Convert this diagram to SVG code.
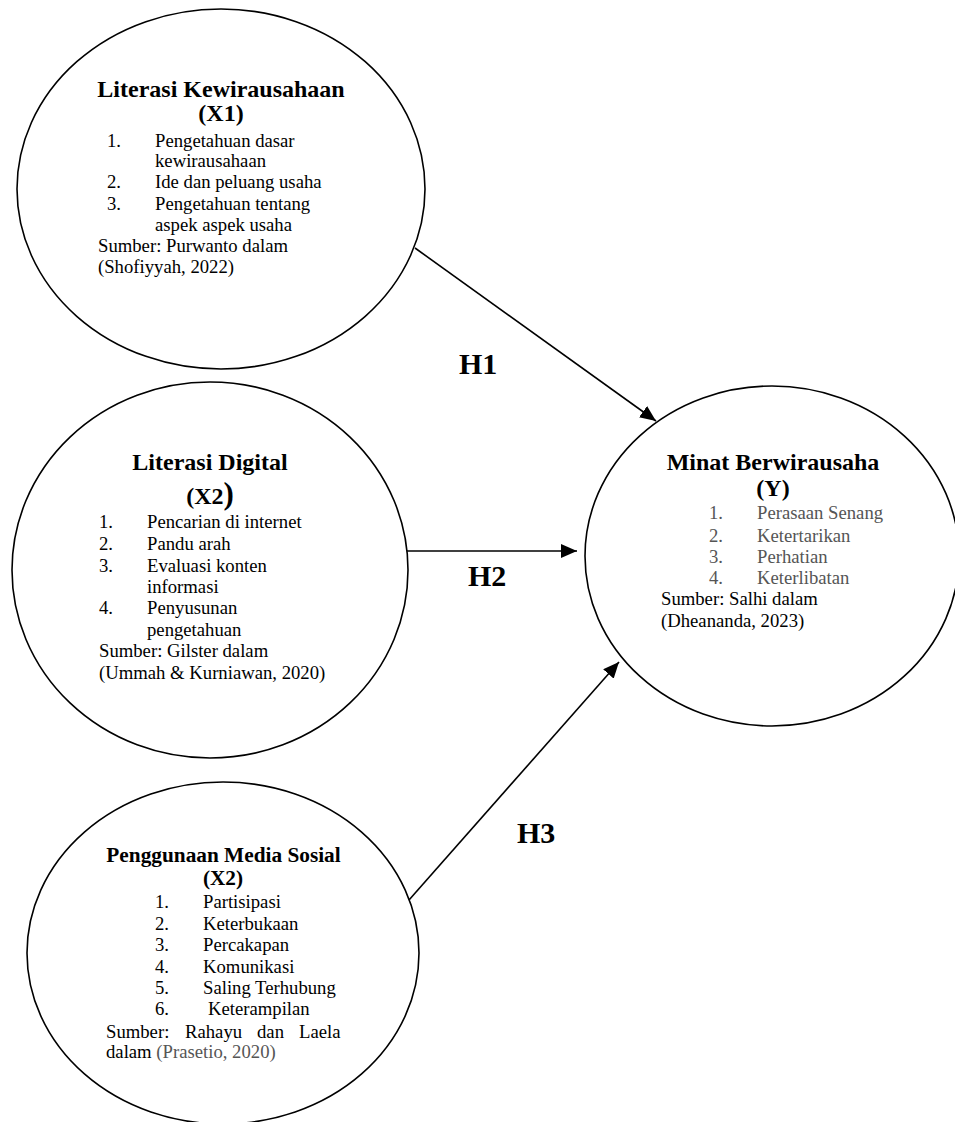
<svg xmlns="http://www.w3.org/2000/svg" width="955" height="1122" viewBox="0 0 955 1122">
<style>
.node ellipse{fill:#fff;stroke:#000;stroke-width:1.6}
text{font-family:"Liberation Serif","Times New Roman",serif;fill:#000}
.t{font-size:24px;font-weight:bold;text-anchor:middle}
.t2{font-size:21.3px;font-weight:bold;text-anchor:middle}
.i{font-size:18.7px}
.g{fill:#555}
.h{font-size:30px;font-weight:bold}
.edge{stroke:#000;stroke-width:1.6;fill:none;marker-end:url(#arr)}
</style>
<defs>
<marker id="arr" markerUnits="userSpaceOnUse" markerWidth="16" markerHeight="14" refX="16" refY="7" orient="auto">
<path d="M0,0 L16,7 L0,14 Z" fill="#000"/>
</marker>
</defs>
<rect width="955" height="1122" fill="#fff"/>
<g id="connectors">
<line class="edge" x1="415" y1="248" x2="656" y2="421"/>
<line class="edge" x1="407" y1="551" x2="577" y2="551"/>
<line class="edge" x1="409" y1="900" x2="619" y2="662"/>
<text class="h" x="459" y="374">H1</text>
<text class="h" x="468" y="586">H2</text>
<text class="h" x="517" y="843">H3</text>
</g>
<g id="x1" class="node">
<ellipse cx="221" cy="189" rx="204" ry="180"/>
<text class="t" x="221" y="97">Literasi Kewirausahaan</text>
<text class="t" x="221" y="121">(X1)</text>
<text class="i" x="107" y="147">1.</text><text class="i" x="155" y="147">Pengetahuan dasar</text>
<text class="i" x="155" y="167">kewirausahaan</text>
<text class="i" x="107" y="188">2.</text><text class="i" x="155" y="188">Ide dan peluang usaha</text>
<text class="i" x="107" y="210">3.</text><text class="i" x="155" y="210">Pengetahuan tentang</text>
<text class="i" x="155" y="231">aspek aspek usaha</text>
<text class="i" x="98" y="252">Sumber: Purwanto dalam</text>
<text class="i" x="98" y="273">(Shofiyyah, 2022)</text>
</g>
<g id="x2" class="node">
<ellipse cx="210" cy="570" rx="198" ry="188"/>
<text class="t" x="210" y="470">Literasi Digital</text>
<text class="t" x="210" y="504">(X2<tspan font-size="31px">)</tspan></text>
<text class="i" x="99" y="528">1.</text><text class="i" x="147" y="528">Pencarian di internet</text>
<text class="i" x="99" y="550">2.</text><text class="i" x="147" y="550">Pandu arah</text>
<text class="i" x="99" y="572">3.</text><text class="i" x="147" y="572">Evaluasi konten</text>
<text class="i" x="147" y="593">informasi</text>
<text class="i" x="99" y="614">4.</text><text class="i" x="147" y="614">Penyusunan</text>
<text class="i" x="147" y="636">pengetahuan</text>
<text class="i" x="99" y="657">Sumber: Gilster dalam</text>
<text class="i" x="99" y="679">(Ummah &amp; Kurniawan, 2020)</text>
</g>
<g id="x3" class="node">
<ellipse cx="223" cy="953" rx="196" ry="171"/>
<text class="t2" x="223.5" y="862">Penggunaan Media Sosial</text>
<text class="t2" x="223" y="885">(X2)</text>
<text class="i" x="155" y="908">1.</text><text class="i" x="203" y="908">Partisipasi</text>
<text class="i" x="155" y="930">2.</text><text class="i" x="203" y="930">Keterbukaan</text>
<text class="i" x="155" y="951">3.</text><text class="i" x="203" y="951">Percakapan</text>
<text class="i" x="155" y="973">4.</text><text class="i" x="203" y="973">Komunikasi</text>
<text class="i" x="155" y="994">5.</text><text class="i" x="203" y="994">Saling Terhubung</text>
<text class="i" x="155" y="1015">6.</text><text class="i" x="208" y="1015">Keterampilan</text>
<text class="i" x="106" y="1038">Sumber:</text><text class="i" x="185" y="1038">Rahayu</text><text class="i" x="257" y="1038">dan</text><text class="i" x="299" y="1038">Laela</text>
<text class="i" x="106" y="1058">dalam <tspan class="g">(Prasetio, 2020)</tspan></text>
</g>
<g id="y" class="node">
<ellipse cx="772" cy="556" rx="187" ry="170"/>
<text class="t" x="773" y="470">Minat Berwirausaha</text>
<text class="t" x="773" y="496">(Y)</text>
<text class="i g" x="709" y="519">1.</text><text class="i g" x="757" y="519">Perasaan Senang</text>
<text class="i g" x="709" y="542">2.</text><text class="i g" x="757" y="542">Ketertarikan</text>
<text class="i g" x="709" y="563">3.</text><text class="i g" x="757" y="563">Perhatian</text>
<text class="i g" x="709" y="584">4.</text><text class="i g" x="757" y="584">Keterlibatan</text>
<text class="i" x="661" y="605">Sumber: Salhi dalam</text>
<text class="i" x="661" y="627">(Dheananda, 2023)</text>
</g>
</svg>
